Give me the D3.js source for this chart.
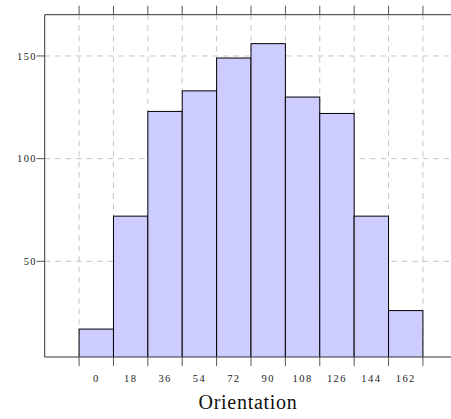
<!DOCTYPE html>
<html>
<head>
<meta charset="utf-8">
<script src="https://cdn.jsdelivr.net/npm/d3@7"></script>
<style>
  html, body { margin: 0; padding: 0; background: #fff; }
  svg { display: block; }
  .tick-label { font-family: "Liberation Serif", "DejaVu Serif", serif; font-size: 10.5px; letter-spacing: 1.4px; fill: #222; }
  .axis-title { font-family: "Liberation Serif", "DejaVu Serif", serif; font-size: 20px; letter-spacing: 0.7px; fill: #111; }
</style>
</head>
<body>
<script>
// Histogram of orientations, 18-degree bins
const binStarts = [0, 18, 36, 54, 72, 90, 108, 126, 144, 162];
const counts = [17, 72, 123, 133, 149, 156, 130, 122, 72, 26];
const binWidth = 18;
const xTickValues = [0, 18, 36, 54, 72, 90, 108, 126, 144, 162, 180];
const yTickValues = [50, 100, 150];
const xLabel = "Orientation";

const W = 451, H = 419;
const plotLeft = 44.7, plotRight = 457.3, plotTop = 14.7, plotBottom = 357;

const x = d3.scaleLinear().domain([-18, 198]).range([plotLeft, plotRight]);
const y = d3.scaleLinear().domain([3.4, 170.1]).range([plotBottom, plotTop]);

const svg = d3.select("body").append("svg").attr("width", W).attr("height", H);

svg.append("defs").append("clipPath").attr("id", "plot-area")
  .append("rect").attr("x", plotLeft).attr("y", plotTop)
  .attr("width", plotRight - plotLeft).attr("height", plotBottom - plotTop);

// dashed grid
const grid = svg.append("g").attr("clip-path", "url(#plot-area)")
  .attr("stroke", "#c4c4c4").attr("stroke-width", 1).attr("stroke-dasharray", "5.5,5");
grid.selectAll("line.v").data(xTickValues).join("line").attr("class", "v")
  .attr("x1", d => x(d)).attr("x2", d => x(d)).attr("y1", plotTop).attr("y2", plotBottom);
grid.selectAll("line.h").data(yTickValues).join("line").attr("class", "h")
  .attr("x1", plotLeft).attr("x2", plotRight).attr("y1", d => y(d)).attr("y2", d => y(d));

// bars
svg.append("g").attr("clip-path", "url(#plot-area)")
  .selectAll("rect").data(binStarts).join("rect")
  .attr("x", d => x(d))
  .attr("width", d => x(d + binWidth) - x(d))
  .attr("y", (d, i) => y(counts[i]))
  .attr("height", (d, i) => y(0) - y(counts[i]))
  .attr("fill", "#ccccff")
  .attr("stroke", "#000").attr("stroke-width", 1);

// axis frame (left, top, bottom)
const frame = svg.append("g").attr("stroke", "#333").attr("stroke-width", 1).attr("fill", "none");
frame.append("line").attr("x1", plotLeft).attr("x2", plotLeft).attr("y1", plotTop).attr("y2", plotBottom);
frame.append("line").attr("x1", plotLeft).attr("x2", plotRight).attr("y1", plotTop).attr("y2", plotTop);
frame.append("line").attr("x1", plotLeft).attr("x2", plotRight).attr("y1", plotBottom).attr("y2", plotBottom);

// tick marks
const ticks = svg.append("g").attr("stroke", "#555").attr("stroke-width", 1);
ticks.selectAll("line.xb").data(xTickValues).join("line").attr("class", "xb")
  .attr("x1", d => x(d)).attr("x2", d => x(d)).attr("y1", plotBottom).attr("y2", plotBottom + 9);
ticks.selectAll("line.xt").data(xTickValues).join("line").attr("class", "xt")
  .attr("x1", d => x(d)).attr("x2", d => x(d)).attr("y1", plotTop).attr("y2", plotTop - 9);
ticks.selectAll("line.yl").data(yTickValues).join("line").attr("class", "yl")
  .attr("x1", plotLeft).attr("x2", plotLeft - 8).attr("y1", d => y(d)).attr("y2", d => y(d));

// x tick labels, centred on each bin
svg.append("g").selectAll("text").data(binStarts).join("text")
  .attr("class", "tick-label")
  .attr("x", d => x(d + binWidth / 2))
  .attr("y", 381.5)
  .attr("text-anchor", "middle")
  .text(d => d);

// y tick labels
svg.append("g").selectAll("text").data(yTickValues).join("text")
  .attr("class", "tick-label")
  .attr("x", 37)
  .attr("y", d => y(d) + 3.6)
  .attr("text-anchor", "end")
  .text(d => d);

// axis title
svg.append("text").attr("class", "axis-title")
  .attr("x", 248).attr("y", 409)
  .attr("text-anchor", "middle")
  .text(xLabel);
</script>
</body>
</html>
